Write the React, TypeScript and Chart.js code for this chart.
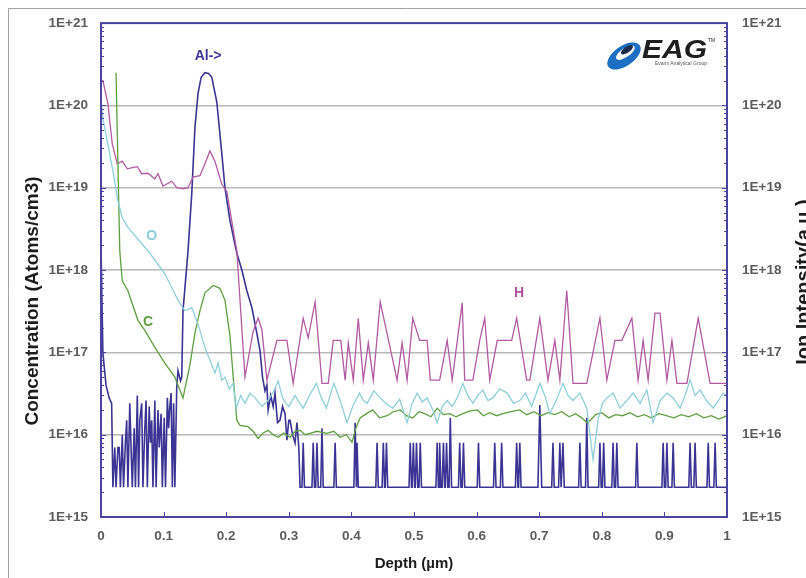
import React, { useEffect, useRef } from "react";
import { Chart, registerables } from "chart.js";

Chart.register(...registerables);

const FONT = "'Liberation Sans', Arial, sans-serif";

// ---- axes ----
const xTickValues = [0, 0.1, 0.2, 0.3, 0.4, 0.5, 0.6, 0.7, 0.8, 0.9, 1];
const xTickLabels = ["0", "0.1", "0.2", "0.3", "0.4", "0.5", "0.6", "0.7", "0.8", "0.9", "1"];
const yDecadeValues = [1e15, 1e16, 1e17, 1e18, 1e19, 1e20, 1e21];
const yDecadeLabels = ["1E+15", "1E+16", "1E+17", "1E+18", "1E+19", "1E+20", "1E+21"];
const yMinorSteps = [2, 3, 4, 5, 6, 7, 8, 9];

// ---- series (depth µm, concentration) ----
const hydrogen: [number, number][] = [
  [0.0, 2.0e20], [0.003, 2.0e20], [0.011, 1.05e20], [0.018, 3.4e19], [0.026, 1.95e19],
  [0.034, 2.1e19], [0.042, 1.7e19], [0.05, 1.75e19], [0.058, 1.8e19], [0.065, 1.48e19],
  [0.075, 1.5e19], [0.086, 1.28e19], [0.091, 1.48e19], [0.099, 1.05e19], [0.113, 1.2e19],
  [0.121, 1.0e19], [0.131, 0.97e19], [0.139, 1.0e19], [0.147, 1.35e19], [0.158, 1.4e19],
  [0.166, 1.95e19], [0.174, 2.8e19], [0.182, 2.1e19], [0.193, 1.1e19], [0.201, 9e18],
  [0.21, 3.5e18], [0.217, 1.7e18], [0.23, 5e16], [0.243, 1.8e17], [0.251, 2.6e17],
  [0.257, 1.9e17], [0.265, 4.6e16], [0.281, 1.4e17], [0.297, 1.4e17], [0.307, 4.2e16],
  [0.323, 2.6e17], [0.331, 1.5e17], [0.342, 4.1e17], [0.353, 4.2e16], [0.363, 4.2e16],
  [0.371, 1.4e17], [0.383, 1.4e17], [0.39, 4.6e16], [0.395, 1.3e17], [0.403, 4.6e16],
  [0.411, 2.6e17], [0.419, 4.6e16], [0.427, 1.3e17], [0.435, 4.6e16], [0.446, 4.1e17],
  [0.473, 4.6e16], [0.481, 1.3e17], [0.489, 4.6e16], [0.498, 2.6e17], [0.509, 1.4e17],
  [0.521, 1.4e17], [0.526, 4.6e16], [0.541, 4.6e16], [0.553, 1.4e17], [0.561, 4.6e16],
  [0.577, 4.0e17], [0.581, 4.6e16], [0.594, 4.6e16], [0.605, 1.4e17], [0.613, 2.6e17],
  [0.621, 4.6e16], [0.633, 1.4e17], [0.656, 1.4e17], [0.664, 2.6e17], [0.68, 4.6e16],
  [0.685, 4.6e16], [0.701, 2.6e17], [0.714, 4.6e16], [0.725, 1.4e17], [0.733, 4.6e16],
  [0.744, 5.6e17], [0.754, 4.2e16], [0.776, 4.2e16], [0.797, 2.6e17], [0.808, 4.6e16],
  [0.821, 1.4e17], [0.832, 1.4e17], [0.848, 2.6e17], [0.858, 4.6e16], [0.866, 1.4e17],
  [0.874, 4.6e16], [0.885, 3e17], [0.893, 3e17], [0.904, 4.6e16], [0.912, 1.4e17],
  [0.92, 4.2e16], [0.936, 4.2e16], [0.954, 2.6e17], [0.973, 4.2e16], [1.0, 4.2e16],
];

const oxygen: [number, number][] = [
  [0.0, 1.2e20], [0.003, 7e19], [0.019, 1.6e19], [0.027, 6.9e18], [0.034, 4.3e18],
  [0.043, 3.3e18], [0.065, 2.1e18], [0.078, 1.6e18], [0.102, 9e17], [0.123, 4.3e17],
  [0.134, 3.2e17], [0.145, 3.5e17], [0.155, 2.2e17], [0.166, 1.15e17], [0.182, 5.6e16],
  [0.187, 7.4e16], [0.193, 4.6e16], [0.198, 5e16], [0.205, 3.6e16], [0.211, 4.2e16],
  [0.216, 2.1e16], [0.223, 3.0e16], [0.23, 2.4e16], [0.238, 3.2e16], [0.246, 2.8e16],
  [0.257, 2.2e16], [0.267, 2.6e16], [0.275, 3.3e16], [0.283, 4.5e16], [0.29, 2.8e16],
  [0.294, 2.5e16], [0.3, 2.2e16], [0.31, 3e16], [0.316, 2.5e16], [0.323, 2.1e16],
  [0.333, 3.0e16], [0.344, 4.2e16], [0.352, 2.8e16], [0.36, 2.1e16], [0.366, 3.0e16],
  [0.372, 4.2e16], [0.382, 2.6e16], [0.393, 1.4e16], [0.403, 2.3e16], [0.413, 3.2e16],
  [0.419, 2.6e16], [0.425, 2.4e16], [0.436, 3.4e16], [0.446, 2.8e16], [0.455, 2.4e16],
  [0.466, 2.1e16], [0.477, 2.7e16], [0.489, 1.4e16], [0.497, 2.4e16], [0.505, 3.2e16],
  [0.513, 2.5e16], [0.521, 2.8e16], [0.53, 2.0e16], [0.537, 1.4e16], [0.545, 2.2e16],
  [0.553, 2.6e16], [0.561, 2.2e16], [0.569, 2.8e16], [0.578, 4.2e16], [0.586, 3.0e16],
  [0.594, 2.4e16], [0.602, 3.0e16], [0.61, 3.5e16], [0.618, 2.6e16], [0.626, 2.8e16],
  [0.637, 3.6e16], [0.649, 3.2e16], [0.659, 2.4e16], [0.669, 2.6e16], [0.678, 3.2e16],
  [0.688, 2.2e16], [0.701, 4.2e16], [0.709, 3.0e16], [0.717, 1.8e16], [0.727, 2.6e16],
  [0.738, 4.2e16], [0.746, 3.0e16], [0.754, 2.6e16], [0.765, 3.2e16], [0.776, 2.1e16],
  [0.786, 5e15], [0.794, 1.5e16], [0.801, 2.4e16], [0.808, 2.8e16], [0.818, 3.2e16],
  [0.829, 2.1e16], [0.84, 2.6e16], [0.85, 3.2e16], [0.861, 2.4e16], [0.872, 3.5e16],
  [0.882, 1.4e16], [0.893, 2.6e16], [0.904, 3.2e16], [0.914, 2.8e16], [0.925, 2.1e16],
  [0.933, 3.0e16], [0.941, 4.6e16], [0.949, 3.0e16], [0.957, 3.5e16], [0.967, 2.6e16],
  [0.978, 2.1e16], [0.986, 2.6e16], [0.994, 3.2e16], [1.0, 3.0e16],
];

const carbon: [number, number][] = [
  [0.024, 2.5e20], [0.03, 1.7e18], [0.034, 7.4e17], [0.043, 5.6e17], [0.059, 2.45e17],
  [0.07, 1.85e17], [0.086, 1.15e17], [0.102, 7.4e16], [0.118, 5e16], [0.126, 3.5e16],
  [0.131, 2.8e16], [0.142, 7e16], [0.15, 1.7e17], [0.158, 3.2e17], [0.166, 5.3e17],
  [0.179, 6.5e17], [0.19, 6e17], [0.198, 4.3e17], [0.206, 1.6e17], [0.212, 4.2e16],
  [0.217, 1.5e16], [0.222, 1.3e16], [0.235, 1.25e16], [0.243, 1.1e16], [0.251, 9e15],
  [0.259, 1.05e16], [0.267, 1.13e16], [0.275, 1.0e16], [0.283, 9.3e15], [0.292, 1.05e16],
  [0.302, 9.3e15], [0.31, 1.1e16], [0.318, 1.13e16], [0.326, 1.0e16], [0.334, 1.04e16],
  [0.345, 1.1e16], [0.361, 1.04e16], [0.372, 1.1e16], [0.382, 9.3e15], [0.392, 1.0e16],
  [0.401, 8.1e15], [0.407, 1.2e16], [0.414, 1.6e16], [0.424, 1.8e16], [0.434, 2e16],
  [0.445, 1.6e16], [0.457, 1.7e16], [0.467, 1.9e16], [0.478, 2e16], [0.488, 1.7e16],
  [0.498, 1.6e16], [0.508, 1.9e16], [0.517, 1.8e16], [0.527, 1.65e16], [0.537, 2.1e16],
  [0.547, 1.75e16], [0.557, 1.8e16], [0.567, 1.65e16], [0.578, 1.8e16], [0.59, 1.95e16],
  [0.601, 2e16], [0.611, 1.7e16], [0.621, 1.85e16], [0.632, 1.7e16], [0.642, 1.8e16],
  [0.655, 1.9e16], [0.669, 2e16], [0.68, 1.75e16], [0.692, 1.9e16], [0.703, 1.7e16],
  [0.714, 1.85e16], [0.725, 1.75e16], [0.736, 1.9e16], [0.748, 1.65e16], [0.758, 1.8e16],
  [0.768, 1.6e16], [0.776, 1.4e16], [0.782, 1.5e16], [0.79, 1.75e16], [0.8, 1.85e16],
  [0.811, 1.6e16], [0.822, 1.75e16], [0.833, 1.7e16], [0.845, 1.85e16], [0.857, 1.65e16],
  [0.868, 1.75e16], [0.879, 1.6e16], [0.891, 1.8e16], [0.903, 1.7e16], [0.915, 1.6e16],
  [0.927, 1.75e16], [0.939, 1.65e16], [0.951, 1.8e16], [0.963, 1.6e16], [0.975, 1.7e16],
  [0.987, 1.55e16], [1.0, 1.7e16],
];

const aluminium: [number, number][] = [
  [0.0, 2e18], [0.003, 1e17], [0.008, 4e16], [0.013, 2.8e16], [0.017, 2.4e16],
  [0.019, 2.3e15], [0.022, 7e15], [0.024, 2.3e15], [0.027, 7e15], [0.029, 7e15],
  [0.031, 2.3e15], [0.034, 1e16], [0.036, 2.3e15], [0.039, 8e15], [0.041, 1.5e16],
  [0.043, 2.3e15], [0.046, 2.4e16], [0.048, 7e15], [0.05, 2.3e15], [0.053, 1.2e16],
  [0.055, 2.3e15], [0.058, 3e16], [0.06, 2.3e15], [0.062, 1.5e16], [0.065, 2.4e16],
  [0.067, 2.3e15], [0.07, 1.2e16], [0.072, 2.6e16], [0.074, 2.3e15], [0.077, 2.2e16],
  [0.079, 8e15], [0.081, 1.5e16], [0.083, 2.3e15], [0.086, 2.6e16], [0.088, 2.3e15],
  [0.091, 2e16], [0.093, 7e15], [0.096, 1.8e16], [0.098, 2.3e15], [0.101, 1.6e16],
  [0.103, 2.3e15], [0.106, 2.8e16], [0.108, 1.2e16], [0.11, 2.2e16], [0.112, 3.2e16],
  [0.114, 2.3e15], [0.116, 2.4e16], [0.118, 2.3e15], [0.121, 3.8e16], [0.123, 6e16],
  [0.127, 4.5e16], [0.129, 5e16], [0.131, 3.2e17], [0.139, 1.7e18], [0.145, 8.5e18],
  [0.15, 5.3e19], [0.155, 1.4e20], [0.16, 2.2e20], [0.166, 2.5e20], [0.172, 2.45e20],
  [0.177, 2.2e20], [0.185, 1.1e20], [0.193, 2.6e19], [0.198, 1e19], [0.206, 4e18],
  [0.217, 1.6e18], [0.225, 1e18], [0.233, 5.6e17], [0.241, 3.5e17], [0.249, 1.7e17],
  [0.254, 1.05e17], [0.258, 5e16], [0.262, 3.4e16], [0.265, 4e16], [0.267, 2e16],
  [0.271, 3e16], [0.275, 2.2e16], [0.278, 3.2e16], [0.282, 1.4e16], [0.286, 1.5e16],
  [0.29, 2.2e16], [0.294, 1.8e16], [0.297, 8.6e15], [0.3, 1.5e16], [0.302, 1.5e16],
  [0.306, 1e16], [0.31, 7.9e15], [0.313, 1.4e16], [0.316, 7e15], [0.318, 2.3e15],
  [0.321, 2.3e15], [0.323, 8e15], [0.325, 2.3e15],
  [0.337, 2.3e15], [0.339, 8e15], [0.341, 2.3e15], [0.343, 2.3e15], [0.345, 8e15], [0.347, 2.3e15],
  [0.351, 2.3e15], [0.353, 1.2e16], [0.355, 2.3e15],
  [0.372, 2.3e15], [0.374, 8e15], [0.376, 2.3e15],
  [0.404, 2.3e15], [0.406, 1.4e16], [0.408, 2.3e15], [0.409, 8e15], [0.411, 2.3e15],
  [0.439, 2.3e15], [0.441, 8e15], [0.443, 2.3e15],
  [0.449, 2.3e15], [0.451, 8e15], [0.453, 2.3e15], [0.454, 2.3e15], [0.456, 8e15], [0.458, 2.3e15],
  [0.492, 2.3e15], [0.494, 8e15], [0.496, 2.3e15], [0.497, 2.3e15], [0.499, 8e15], [0.501, 2.3e15],
  [0.502, 2.3e15], [0.504, 8e15], [0.506, 2.3e15], [0.508, 2.3e15], [0.51, 8e15], [0.512, 2.3e15],
  [0.535, 2.3e15], [0.537, 8e15], [0.539, 2.3e15], [0.54, 2.3e15], [0.541, 8e15], [0.543, 2.3e15],
  [0.545, 2.3e15], [0.547, 8e15], [0.549, 2.3e15], [0.55, 2.3e15], [0.552, 8e15], [0.554, 2.3e15],
  [0.556, 2.3e15], [0.558, 1.6e16], [0.56, 2.3e15],
  [0.571, 2.3e15], [0.573, 8e15], [0.575, 2.3e15], [0.577, 2.3e15], [0.579, 8e15], [0.581, 2.3e15],
  [0.601, 2.3e15], [0.603, 8e15], [0.605, 2.3e15],
  [0.627, 2.3e15], [0.629, 8e15], [0.631, 2.3e15],
  [0.638, 2.3e15], [0.64, 8e15], [0.642, 2.3e15],
  [0.662, 2.3e15], [0.664, 8e15], [0.666, 2.3e15], [0.667, 2.3e15], [0.669, 8e15], [0.671, 2.3e15],
  [0.698, 2.3e15], [0.701, 2.3e16], [0.704, 2.3e15],
  [0.72, 2.3e15], [0.722, 8e15], [0.724, 2.3e15],
  [0.731, 2.3e15], [0.733, 8e15], [0.735, 2.3e15], [0.736, 2.3e15], [0.738, 8e15], [0.74, 2.3e15],
  [0.763, 2.3e15], [0.765, 8e15], [0.767, 2.3e15],
  [0.774, 2.3e15], [0.776, 1.6e16], [0.778, 2.3e15],
  [0.795, 2.3e15], [0.797, 8e15], [0.799, 2.3e15], [0.801, 2.3e15], [0.803, 8e15], [0.805, 2.3e15],
  [0.816, 2.3e15], [0.818, 8e15], [0.82, 2.3e15], [0.822, 2.3e15], [0.824, 8e15], [0.826, 2.3e15],
  [0.854, 2.3e15], [0.856, 8e15], [0.858, 2.3e15],
  [0.896, 2.3e15], [0.898, 8e15], [0.9, 2.3e15], [0.902, 2.3e15], [0.904, 8e15], [0.906, 2.3e15],
  [0.912, 2.3e15], [0.914, 8e15], [0.916, 2.3e15],
  [0.939, 2.3e15], [0.941, 8e15], [0.943, 2.3e15], [0.947, 2.3e15], [0.949, 8e15], [0.951, 2.3e15],
  [0.968, 2.3e15], [0.97, 8e15], [0.972, 2.3e15],
  [0.979, 2.3e15], [0.981, 8e15], [0.983, 2.3e15], [1.0, 2.3e15],
];

// ---- in-plot labels (depth, concentration anchor) ----
const seriesLabels: { text: string; x: number; y: number; color: string }[] = [
  { text: "Al->", x: 0.171, y: 4e20, color: "#3d3596" },
  { text: "O", x: 0.081, y: 2.6e18, color: "#8ccfd9" },
  { text: "C", x: 0.075, y: 2.3e17, color: "#5c9e3e" },
  { text: "H", x: 0.668, y: 5.2e17, color: "#b04f9e" },
];

const NAVY = "#4a44a0";
const TICK_COLOR = "#5c5c5c";

const isDecade = (v: number) => Math.abs(Math.log10(v) - Math.round(Math.log10(v))) < 1e-6;

const buildYTicks = () => {
  const out: { value: number; major: boolean }[] = [];
  yDecadeValues.forEach((d, i) => {
    out.push({ value: d, major: true });
    if (i < yDecadeValues.length - 1) yMinorSteps.forEach((m) => out.push({ value: d * m, major: false }));
  });
  return out;
};

const decadeLabel = (v: number) => {
  const idx = yDecadeValues.findIndex((d) => Math.abs(Math.log10(d) - Math.log10(v)) < 1e-6);
  return idx >= 0 ? yDecadeLabels[idx] : "";
};

const decorPlugin = {
  id: "decor",
  beforeDraw(chart: any) {
    const { ctx, width, height } = chart;
    ctx.save();
    ctx.fillStyle = "#ffffff";
    ctx.fillRect(0, 0, width, height);
    ctx.strokeStyle = "#a3a3a3";
    ctx.lineWidth = 1;
    ctx.beginPath();
    ctx.moveTo(8.5, height);
    ctx.lineTo(8.5, 8.5);
    ctx.lineTo(width, 8.5);
    ctx.stroke();
    ctx.restore();
  },
  afterDatasetsDraw(chart: any) {
    const { ctx, chartArea } = chart;
    const { left, right, top, bottom } = chartArea;
    const ys = chart.scales.y;
    const xs = chart.scales.x;
    ctx.save();
    // plot border
    ctx.strokeStyle = NAVY;
    ctx.lineWidth = 2;
    ctx.strokeRect(left, top, right - left, bottom - top);
    // inward ticks
    ctx.lineWidth = 1;
    ctx.beginPath();
    ys.ticks.forEach((t: any) => {
      const py = Math.round(ys.getPixelForValue(t.value)) + 0.5;
      const len = isDecade(t.value) ? 5 : 3;
      ctx.moveTo(left, py);
      ctx.lineTo(left + len, py);
      ctx.moveTo(right, py);
      ctx.lineTo(right - len, py);
    });
    xs.ticks.forEach((t: any) => {
      const px = Math.round(xs.getPixelForValue(t.value)) + 0.5;
      ctx.moveTo(px, bottom);
      ctx.lineTo(px, bottom - 5);
    });
    ctx.stroke();

    // series labels
    ctx.font = `bold 14px ${FONT}`;
    ctx.textAlign = "center";
    ctx.textBaseline = "middle";
    seriesLabels.forEach((l) => {
      ctx.fillStyle = l.color;
      ctx.fillText(l.text, xs.getPixelForValue(l.x), ys.getPixelForValue(l.y));
    });

    // axis titles
    ctx.fillStyle = "#1c1c1c";
    ctx.font = `bold 19px ${FONT}`;
    ctx.save();
    ctx.translate(33, 301);
    ctx.rotate(-Math.PI / 2);
    ctx.fillText("Concentration (Atoms/cm3)", 0, 0);
    ctx.restore();
    ctx.font = `bold 20px ${FONT}`;
    ctx.save();
    ctx.translate(804, 282);
    ctx.rotate(-Math.PI / 2);
    ctx.fillText("Ion Intensity(a.u.)", 0, 0);
    ctx.restore();
    ctx.font = `bold 15px ${FONT}`;
    ctx.fillText("Depth (\u00b5m)", (left + right) / 2, 564);

    // logo
    ctx.save();
    ctx.translate(624, 56);
    ctx.rotate(-0.6);
    ctx.beginPath();
    ctx.ellipse(0, 0, 19, 10, 0, 0, Math.PI * 2);
    ctx.fillStyle = "#1c6fc2";
    ctx.fill();
    ctx.beginPath();
    ctx.ellipse(3, -2, 11, 4.5, 0, 0, Math.PI * 2);
    ctx.fillStyle = "#ffffff";
    ctx.fill();
    ctx.beginPath();
    ctx.ellipse(6, -3.5, 7, 3, 0, 0, Math.PI * 2);
    ctx.fillStyle = "#1a2a4a";
    ctx.fill();
    ctx.restore();
    ctx.fillStyle = "#1e1e1e";
    ctx.font = `italic bold 25px ${FONT}`;
    ctx.textAlign = "left";
    ctx.textBaseline = "alphabetic";
    ctx.save();
    ctx.translate(642, 58);
    ctx.scale(1.2, 1);
    ctx.fillText("EAG", 0, 0);
    ctx.restore();
    ctx.font = `5px ${FONT}`;
    ctx.fillText("TM", 708, 42);
    ctx.fillStyle = "#555";
    ctx.fillText("Evans Analytical Group", 655, 65);
    ctx.restore();
  },
};

export default function App() {
  const canvasRef = useRef<HTMLCanvasElement | null>(null);

  useEffect(() => {
    if (!canvasRef.current) return;
    const mk = (pts: [number, number][]) => pts.map(([x, y]) => ({ x, y }));
    const tickFont = { family: FONT, size: 13.5, weight: "bold" as const };
    const chart = new Chart(canvasRef.current, {
      type: "line",
      data: {
        datasets: [
          { label: "O", data: mk(oxygen), borderColor: "#8ed0da", borderWidth: 1.3 },
          { label: "C", data: mk(carbon), borderColor: "#5e9f40", borderWidth: 1.3 },
          { label: "H", data: mk(hydrogen), borderColor: "#b25aa2", borderWidth: 1.3 },
          { label: "Al", data: mk(aluminium), borderColor: "#3c3494", borderWidth: 1.6 },
        ].map((d) => ({ ...d, pointRadius: 0, tension: 0, fill: false, yAxisID: "y" })),
      },
      options: {
        animation: false,
        responsive: false,
        events: [],
        layout: { padding: { top: 23, left: 0, right: 0, bottom: 0 } },
        plugins: { legend: { display: false }, tooltip: { enabled: false } },
        scales: {
          x: {
            type: "linear",
            min: 0,
            max: 1,
            afterBuildTicks: (s: any) => {
              s.ticks = xTickValues.map((v) => ({ value: v }));
            },
            afterFit: (s: any) => {
              s.height = 61;
            },
            ticks: {
              autoSkip: false,
              maxRotation: 0,
              padding: 11,
              color: TICK_COLOR,
              font: tickFont,
              callback: (_v: any, i: number) => xTickLabels[i],
            },
            grid: { display: false, drawTicks: false },
            border: { display: false },
          },
          y: {
            type: "logarithmic",
            position: "left",
            min: 1e15,
            max: 1e21,
            afterBuildTicks: (s: any) => {
              s.ticks = buildYTicks();
            },
            afterFit: (s: any) => {
              s.width = 101;
            },
            ticks: {
              autoSkip: false,
              padding: 13,
              color: TICK_COLOR,
              font: tickFont,
              callback: (v: any) => decadeLabel(Number(v)),
            },
            grid: {
              drawTicks: false,
              lineWidth: 1.5,
              color: (c: any) => {
                const v = c.tick ? c.tick.value : 0;
                return isDecade(v) && v > 1e15 && v < 1e21 ? "#b8b8b8" : "rgba(0,0,0,0)";
              },
            },
            border: { display: false },
          },
          y2: {
            type: "logarithmic",
            position: "right",
            min: 1e15,
            max: 1e21,
            afterBuildTicks: (s: any) => {
              s.ticks = buildYTicks();
            },
            afterFit: (s: any) => {
              s.width = 79;
            },
            ticks: {
              autoSkip: false,
              padding: 15,
              color: TICK_COLOR,
              font: tickFont,
              callback: (v: any) => decadeLabel(Number(v)),
            },
            grid: { display: false, drawTicks: false },
            border: { display: false },
          },
        },
      },
      plugins: [decorPlugin],
    } as any);
    return () => chart.destroy();
  }, []);

  return (
    <div style={{ position: "fixed", left: 0, top: 0, width: 806, height: 578 }}>
      <canvas ref={canvasRef} width={806} height={578} style={{ display: "block" }} />
    </div>
  );
}
